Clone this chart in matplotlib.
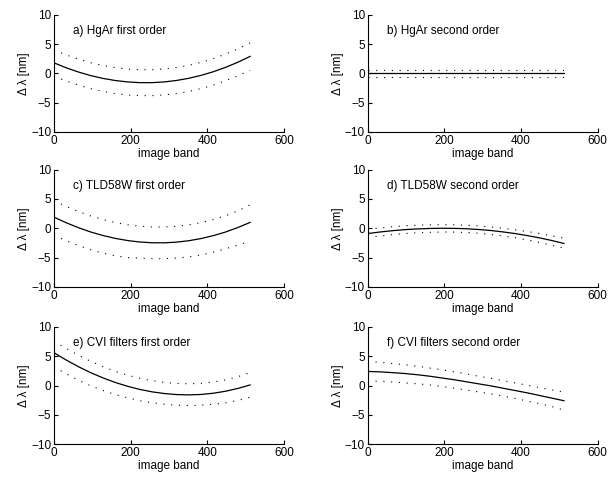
import matplotlib
matplotlib.use("Agg")
import matplotlib.pyplot as plt

plt.rcParams['font.family'] = ['Liberation Sans', 'DejaVu Sans']
plt.rcParams['font.size'] = 8.5

# image band sample positions
band = [0, 32, 64, 96, 128, 160, 192, 224, 256, 288, 320, 352, 384, 416, 448, 480, 512]

titles = ["a) HgAr first order", "b) HgAr second order",
          "c) TLD58W first order", "d) TLD58W second order",
          "e) CVI filters first order", "f) CVI filters second order"]

# wavelength correction [nm]: fit, upper and lower bound per panel
fit_a = [1.8, 0.95, 0.23, -0.38, -0.86, -1.22, -1.46, -1.585, -1.584, -1.46, -1.21, -0.84, -0.34, 0.28, 1.03, 1.9, 2.9]
up_a = [4.0, 3.15, 2.43, 1.82, 1.34, 0.98, 0.74, 0.615, 0.62, 0.75, 1.0, 1.37, 1.88, 2.52, 3.3, 4.2, 5.2]
lo_a = [-0.5, -1.3, -2.0, -2.6, -3.1, -3.45, -3.7, -3.8, -3.8, -3.68, -3.45, -3.1, -2.6, -2.0, -1.25, -0.4, 0.5]

fit_b = [0.0] * 17
up_b = [0.6] * 17
lo_b = [-0.6] * 17

fit_c = [1.9, 0.94, 0.09, -0.64, -1.24, -1.73, -2.1, -2.35, -2.48, -2.49, -2.37, -2.13, -1.76, -1.26, -0.64, 0.12, 1.0]
up_c = [4.7, 3.72, 2.85, 2.1, 1.47, 0.97, 0.6, 0.35, 0.22, 0.21, 0.33, 0.58, 0.96, 1.48, 2.13, 2.95, 4.0]
lo_c = [-1.2, -2.14, -2.97, -3.68, -4.25, -4.7, -5.0, -5.1, -5.2, -5.2, -5.1, -4.9, -4.55, -4.1, -3.5, -2.9, -2.2]

fit_d = [-0.9, -0.64, -0.42, -0.24, -0.12, -0.04, 0.0, -0.02, -0.08, -0.21, -0.38, -0.62, -0.9, -1.25, -1.64, -2.09, -2.6]
up_d = [-0.2, 0.04, 0.25, 0.42, 0.52, 0.58, 0.6, 0.59, 0.52, 0.4, 0.23, 0.0, -0.25, -0.55, -0.9, -1.3, -1.7]
lo_d = [-1.6, -1.32, -1.1, -0.9, -0.78, -0.7, -0.65, -0.66, -0.72, -0.85, -1.05, -1.3, -1.62, -2.0, -2.42, -2.9, -3.4]

fit_e = [5.6, 4.35, 3.21, 2.19, 1.3, 0.52, -0.13, -0.67, -1.08, -1.37, -1.55, -1.6, -1.53, -1.32, -0.98, -0.5, 0.1]
up_e = [7.6, 6.33, 5.17, 4.13, 3.22, 2.43, 1.76, 1.24, 0.83, 0.53, 0.35, 0.3, 0.37, 0.6, 0.95, 1.5, 2.2]
lo_e = [3.2, 2.0, 0.9, -0.05, -0.85, -1.55, -2.1, -2.6, -2.95, -3.2, -3.37, -3.42, -3.37, -3.2, -2.95, -2.55, -2.0]

fit_f = [2.4, 2.33, 2.2, 2.05, 1.85, 1.6, 1.3, 1.0, 0.65, 0.3, -0.05, -0.45, -0.85, -1.25, -1.7, -2.15, -2.6]
up_f = [4.1, 3.97, 3.75, 3.55, 3.3, 3.0, 2.7, 2.35, 2.0, 1.6, 1.25, 0.85, 0.45, 0.05, -0.35, -0.75, -1.1]
lo_f = [0.8, 0.72, 0.6, 0.45, 0.3, 0.1, -0.15, -0.45, -0.75, -1.08, -1.42, -1.8, -2.2, -2.65, -3.1, -3.6, -4.2]

panels = [(fit_a, up_a, lo_a), (fit_b, up_b, lo_b),
          (fit_c, up_c, lo_c), (fit_d, up_d, lo_d),
          (fit_e, up_e, lo_e), (fit_f, up_f, lo_f)]

fig = plt.figure(figsize=(6.13, 4.78), dpi=100)

lefts = [0.088, 0.600]
bottoms = [0.724, 0.400, 0.071]
w, h = 0.375, 0.245

for i, (fit, up, lo) in enumerate(panels):
    ax = fig.add_axes([lefts[i % 2], bottoms[i // 2], w, h])
    ax.plot(band, fit, color='black', lw=0.9)
    ax.plot(band, up, color='black', lw=0.8, linestyle=(0, (1, 6)))
    ax.plot(band, lo, color='black', lw=0.8, linestyle=(0, (1, 6)))
    ax.set_xlim(0, 600)
    ax.set_ylim(-10, 10)
    ax.set_xticks([0, 200, 400, 600])
    ax.set_yticks([-10, -5, 0, 5, 10])
    ax.spines['top'].set_visible(False)
    ax.spines['right'].set_visible(False)
    ax.tick_params(direction='in', length=3, width=0.8, pad=2)
    ax.set_xlabel('image band', labelpad=1)
    ax.set_ylabel('Δ λ [nm]', labelpad=1)
    ax.text(50, 7.2, titles[i], va='center', ha='left')

plt.savefig('out.png', dpi=100)
